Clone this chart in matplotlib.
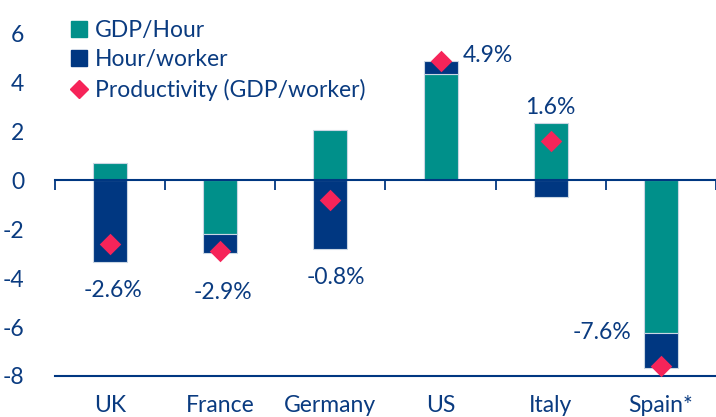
import numpy as np
import matplotlib
matplotlib.use("Agg")
import matplotlib.pyplot as plt
from matplotlib.lines import Line2D

# data (% change)
countries = ["UK", "France", "Germany", "US", "Italy", "Spain*"]
gdp_hour = [0.71, -2.21, 2.05, 4.34, 2.34, -6.24]
hour_worker = [-3.32, -0.74, -2.80, 0.56, -0.68, -1.45]
productivity = [-2.6, -2.9, -0.8, 4.9, 1.6, -7.6]
prod_labels = ["-2.6%", "-2.9%", "-0.8%", "4.9%", "1.6%", "-7.6%"]

teal = "#00908A"
navy = "#003781"
pink = "#F62459"
txt = "#0A3B80"

plt.rcParams['font.family'] = ['Lato', 'DejaVu Sans']
plt.rcParams['axes.unicode_minus'] = False
fs = 16.5

fig = plt.figure(figsize=(7.16, 4.17), dpi=100)
ax = fig.add_axes([55 / 716, 41 / 417, 1 - 55 / 716, 376 / 417])

x = np.arange(len(countries))
w = 0.31
gh = np.array(gdp_hour)
hw = np.array(hour_worker)

# stack positives on positives, negatives on negatives
hw_base = np.where(np.sign(hw) == np.sign(gh), gh, 0)
ax.bar(x, gh, w, color=teal, edgecolor="#c9d6e3", linewidth=0.8, zorder=2)
ax.bar(x, hw, w, bottom=hw_base, color=navy, edgecolor="#c9d6e3", linewidth=0.8, zorder=2)
ax.scatter(x, productivity, marker="D", s=120, color=pink, zorder=4, linewidths=0)

# data labels
lab_pos = [(0.03, -4.5, "center"), (0.02, -4.6, "center"), (0.05, -3.97, "center"),
           (0.2, 5.12, "left"), (0.0, 3.0, "center"), (-0.27, -6.23, "right")]
for i, (dx, yy, ha) in enumerate(lab_pos):
    ax.text(x[i] + dx, yy, prod_labels[i], ha=ha, va="center", fontsize=fs, color=txt)

ax.set_xlim(-0.5, 5.45)
ax.set_ylim(-8, 7.38)

# zero axis with boundary ticks
for s in ["top", "right", "left"]:
    ax.spines[s].set_visible(False)
ax.spines["bottom"].set_position(("data", 0))
ax.spines["bottom"].set_color(navy)
ax.spines["bottom"].set_linewidth(1.5)
ax.spines["bottom"].set_zorder(3)
ax.set_xticks(np.arange(-0.5, 6, 1))
ax.tick_params(axis="x", length=7, width=1.3, color=navy, labelbottom=False)

ax.set_yticks(np.arange(-8, 7, 2))
ax.tick_params(axis="y", length=0, pad=22, labelsize=fs, labelcolor=txt)

# category axis at the bottom
sec = ax.secondary_xaxis("bottom")
sec.set_xticks(x)
sec.set_xticklabels(countries)
sec.tick_params(length=0, pad=14, labelsize=fs, labelcolor=txt)
sec.spines["bottom"].set_color(navy)
sec.spines["bottom"].set_linewidth(1.5)

handles = [
    Line2D([], [], marker="s", linestyle="none", markersize=11, color=teal),
    Line2D([], [], marker="s", linestyle="none", markersize=11, color=navy),
    Line2D([], [], marker="D", linestyle="none", markersize=9, color=pink),
]
leg = ax.legend(handles, ["GDP/Hour", "Hour/worker", "Productivity (GDP/worker)"],
                loc="upper left", bbox_to_anchor=(0.008, 0.972), frameon=False,
                fontsize=fs, handlelength=0.8, handletextpad=0.3, labelspacing=0.38,
                borderaxespad=0)
for t in leg.get_texts():
    t.set_color(txt)

fig.savefig("out.png", dpi=100)
